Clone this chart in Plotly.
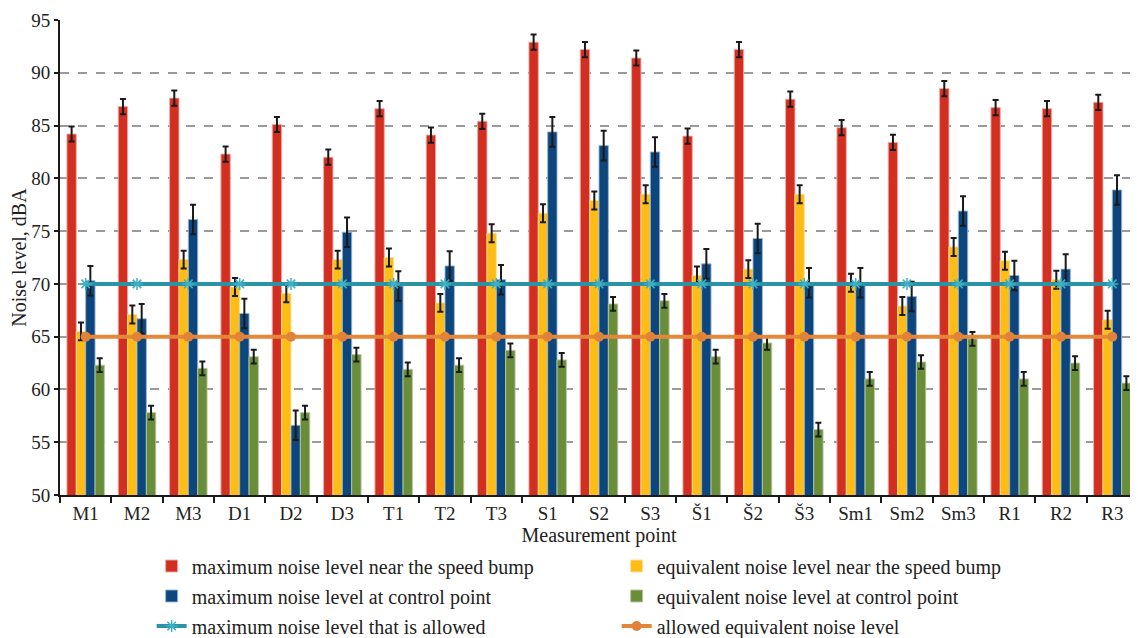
import plotly.graph_objects as go

categories = ["M1", "M2", "M3", "D1", "D2", "D3", "T1", "T2", "T3", "S1", "S2", "S3",
              "Š1", "Š2", "Š3", "Sm1", "Sm2", "Sm3", "R1", "R2", "R3"]

max_near_bump = [84.2, 86.8, 87.6, 82.3, 85.1, 82.0, 86.6, 84.1, 85.4, 92.9, 92.2, 91.4,
                 84.0, 92.2, 87.5, 84.8, 83.4, 88.5, 86.7, 86.6, 87.2]
eq_near_bump = [65.5, 67.1, 72.3, 69.7, 69.1, 72.3, 72.5, 68.2, 74.8, 76.7, 77.9, 78.5,
                70.8, 71.4, 78.5, 70.1, 67.9, 73.5, 72.2, 70.4, 66.6]
max_control = [70.3, 66.7, 76.1, 67.2, 56.6, 74.9, 69.8, 71.7, 70.4, 84.4, 83.1, 82.5,
               71.9, 74.3, 70.1, 70.1, 68.8, 76.9, 70.8, 71.4, 78.9]
eq_control = [62.3, 57.8, 62.0, 63.1, 57.8, 63.3, 61.9, 62.3, 63.7, 62.8, 68.1, 68.4,
              63.1, 64.4, 56.2, 61.0, 62.6, 64.8, 61.0, 62.5, 60.6]

err_max_near = 0.72
err_eq_near = 0.85
err_max_control = 1.4
err_eq_control = 0.65

allowed_max = [70] * len(categories)
allowed_eq = [65] * len(categories)

FONT = "Liberation Serif"
TXT = "#222222"

bar_specs = [
    ("maximum noise level near the speed bump", max_near_bump, err_max_near, "#D22F21", "rgba(240,170,165,0.9)", "legend"),
    ("equivalent noise level near the speed bump", eq_near_bump, err_eq_near, "#FDBD16", "rgba(255,225,150,0.9)", "legend"),
    ("maximum noise level at control point", max_control, err_max_control, "#0D467D", "rgba(150,180,215,0.9)", "legend2"),
    ("equivalent noise level at control point", eq_control, err_eq_control, "#6A8D3A", "rgba(180,200,160,0.9)", "legend2"),
]

fig = go.Figure()
for name, vals, err, col, edge, lg in bar_specs:
    fig.add_trace(go.Bar(
        x=categories, y=vals, name=name, legend=lg,
        marker=dict(color=col, line=dict(color=edge, width=1)),
        error_y=dict(type="constant", value=err, color="#1a1a1a", thickness=2, width=3),
    ))

fig.add_trace(go.Scatter(
    x=categories, y=allowed_max, name="maximum noise level that is allowed", legend="legend3",
    mode="lines+markers",
    line=dict(color="#2A93A6", width=4),
    marker=dict(symbol="asterisk-open", size=10, color="#3FB0C4", line=dict(color="#3FB0C4", width=1.5)),
))
fig.add_trace(go.Scatter(
    x=categories, y=allowed_eq, name="allowed equivalent noise level", legend="legend3",
    mode="lines+markers",
    line=dict(color="#E3883A", width=4),
    marker=dict(symbol="circle", size=10, color="#E0823A"),
))

def legend_row(yc):
    return dict(
        orientation="h", x=0.085, xanchor="left", y=yc, yanchor="middle",
        entrywidth=420, entrywidthmode="pixels",
        font=dict(family=FONT, size=20, color=TXT),
        itemwidth=30, traceorder="normal", bgcolor="rgba(0,0,0,0)",
    )

# page body has an 8px margin, so the figure is drawn 8px smaller and offset
fig.update_layout(
    width=1130, height=630,
    margin=dict(l=52, r=0, t=12, b=143, autoexpand=False),
    paper_bgcolor="white", plot_bgcolor="white",
    barmode="group", bargap=0.27, bargroupgap=0,
    font=dict(family=FONT, size=19, color=TXT),
    showlegend=True,
    legend=legend_row(-0.1495),
    legend2=legend_row(-0.2126),
    legend3=legend_row(-0.2758),
    xaxis=dict(
        type="category", range=[-0.5, len(categories) - 0.5],
        showline=True, linecolor="#1a1a1a", linewidth=2,
        ticks="outside", tickson="boundaries", ticklen=6, tickwidth=2, tickcolor="#1a1a1a",
        showgrid=False,
        tickfont=dict(family=FONT, size=19, color=TXT),
        title=dict(text="Measurement point", font=dict(family=FONT, size=20, color=TXT), standoff=0),
    ),
    yaxis=dict(
        range=[50, 95], dtick=5, tick0=50,
        showline=True, linecolor="#1a1a1a", linewidth=2,
        ticks="outside", ticklen=4, tickwidth=2, tickcolor="#1a1a1a",
        showgrid=True, gridcolor="#9a9a9a", gridwidth=1.5, griddash="dash",
        zeroline=False,
        tickfont=dict(family=FONT, size=19, color=TXT),
        title=dict(text="Noise level, dBA", font=dict(family=FONT, size=20, color=TXT), standoff=8),
    ),
)

fig.write_html("out.html")
